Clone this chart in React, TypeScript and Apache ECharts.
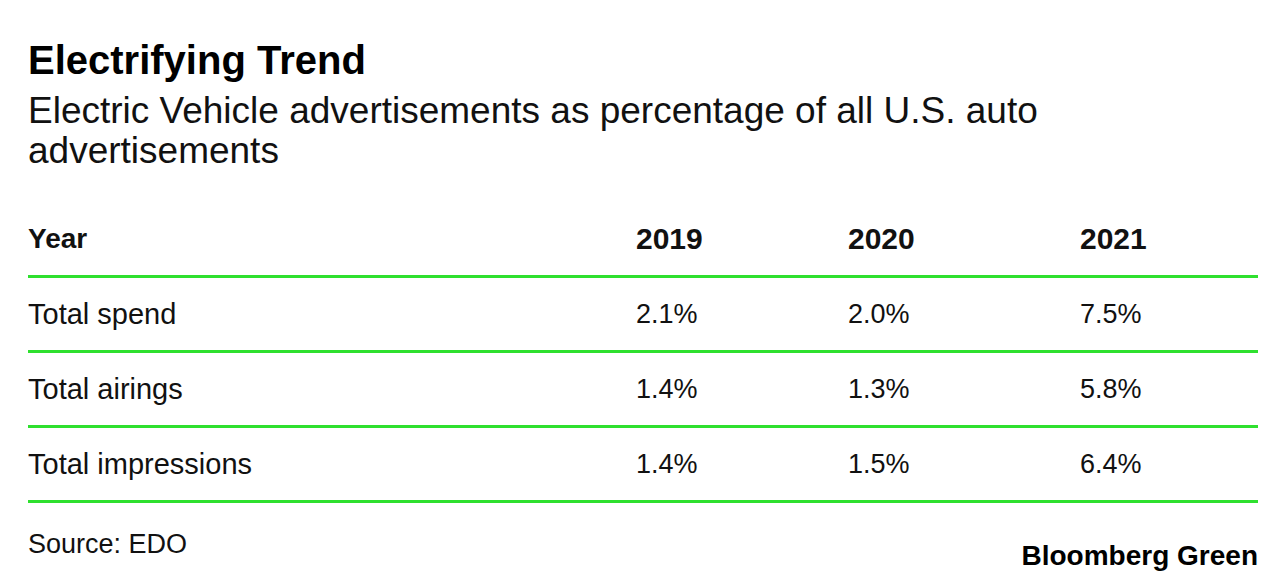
import React, { useEffect, useRef } from "react";
import * as echarts from "echarts";

const TITLE = "Electrifying Trend";
const SUBTITLE = "Electric Vehicle advertisements as percentage of all U.S. auto\nadvertisements";
const SOURCE = "Source: EDO";
const BRAND = "Bloomberg Green";

const headerLabel = "Year";
const years = ["2019", "2020", "2021"];
const rowLabels = ["Total spend", "Total airings", "Total impressions"];
const totalSpend = [2.1, 2.0, 7.5];
const totalAirings = [1.4, 1.3, 5.8];
const totalImpressions = [1.4, 1.5, 6.4];
const rowValues = [totalSpend, totalAirings, totalImpressions];

// layout (not data)
const COL_X = [608, 820, 1052];
const GREEN = "#2fe02f";
const FONT = "'Liberation Sans', Arial, Helvetica, sans-serif";
const INK = "#111";

export default function App() {
  const ref = useRef<HTMLDivElement>(null);
  useEffect(() => {
    if (!ref.current) return;
    const chart = echarts.init(ref.current, undefined, { renderer: "svg" });
    const series: any[] = [];
    series.push({
      type: "scatter",
      symbolSize: 1,
      itemStyle: { color: "rgba(0,0,0,0)", opacity: 1 },
      data: years.map((y, j) => [COL_X[j], headerLabel, y]),
      label: {
        show: true,
        position: "inside",
        align: "left",
        verticalAlign: "middle",
        formatter: (p: any) => p.data[2],
        fontFamily: FONT,
        fontSize: 30,
        fontWeight: "bold",
        color: INK,
      },
    });
    rowLabels.forEach((r, i) => {
      series.push({
        type: "scatter",
        symbolSize: 1,
        itemStyle: { color: "rgba(0,0,0,0)", opacity: 1 },
        data: rowValues[i].map((v, j) => [COL_X[j], r, v]),
        label: {
          show: true,
          position: "inside",
          align: "left",
          verticalAlign: "middle",
          formatter: (p: any) => p.data[2].toFixed(1) + "%",
          fontFamily: FONT,
          fontSize: 27,
          color: INK,
        },
      });
    });
    chart.setOption({
      animation: false,
      backgroundColor: "#fff",
      title: [
        {
          text: TITLE,
          left: 28,
          top: 40,
          padding: 0,
          textStyle: { fontFamily: FONT, fontSize: 40, fontWeight: "bold", color: "#000" },
        },
        {
          text: SUBTITLE,
          left: 28,
          top: 90,
          padding: 0,
          textStyle: { fontFamily: FONT, fontSize: 37, fontWeight: "normal", color: INK, lineHeight: 40 },
        },
        {
          text: SOURCE,
          left: 28,
          top: 530,
          padding: 0,
          textStyle: { fontFamily: FONT, fontSize: 27, fontWeight: "normal", color: INK },
        },
        {
          text: BRAND,
          right: 29,
          top: 541,
          padding: 0,
          textStyle: { fontFamily: FONT, fontSize: 28, fontWeight: "bold", color: "#000" },
        },
      ],
      grid: { left: 28, right: 29, top: 201, height: 300, containLabel: false },
      xAxis: {
        type: "value",
        min: 0,
        max: 1230,
        show: false,
      },
      yAxis: {
        type: "category",
        inverse: true,
        data: [headerLabel, ...rowLabels],
        axisLine: { show: false },
        axisTick: { show: false },
        axisLabel: {
          inside: true,
          margin: 0,
          fontFamily: FONT,
          fontSize: 29,
          color: INK,
          formatter: (v: string, i: number) => (i === 0 ? `{h|${v}}` : `{b|${v}}`),
          rich: {
            h: { fontFamily: FONT, fontSize: 28, fontWeight: "bold", color: INK },
            b: { fontFamily: FONT, fontSize: 29, color: INK },
          },
        },
        splitLine: {
          show: true,
          lineStyle: { color: ["rgba(0,0,0,0)", GREEN, GREEN, GREEN, GREEN], width: 3 },
        },
      },
      series,
    });
    return () => chart.dispose();
  }, []);
  return (
    <div
      ref={ref}
      style={{ position: "absolute", left: 0, top: 0, width: 1287, height: 582 }}
    />
  );
}
